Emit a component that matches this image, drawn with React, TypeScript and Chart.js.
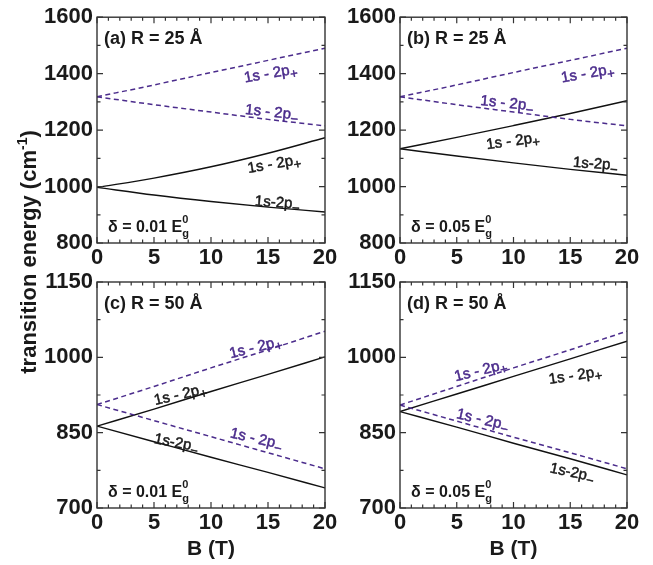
import React, { useEffect, useRef } from 'react';
import { Chart, registerables } from 'chart.js';

Chart.register(...registerables);

const FONT = '"Liberation Sans", Arial, Helvetica, sans-serif';
const PURPLE = '#4b2c8c';
const INK = '#1a1a1a';
const FRAME = '#333333';
const W = 653;
const H = 565;

// magnetic field B (T)
const B_FIELD = [0, 5, 10, 15, 20];

// (a) R = 25 Å, δ = 0.01 Eg0
const A_DASH_PLUS = [1318, 1360, 1404, 1447, 1490];
const A_DASH_MINUS = [1318, 1290, 1264, 1238, 1215];
const A_SOLID_PLUS = [997, 1030, 1070, 1118, 1173];
const A_SOLID_MINUS = [997, 970, 947, 927, 910];

// (b) R = 25 Å, δ = 0.05 Eg0
const B_DASH_PLUS = [1318, 1360, 1404, 1447, 1490];
const B_DASH_MINUS = [1318, 1290, 1264, 1238, 1215];
const B_SOLID_PLUS = [1134, 1174, 1216, 1259, 1304];
const B_SOLID_MINUS = [1134, 1108, 1084, 1061, 1040];

// (c) R = 50 Å, δ = 0.01 Eg0
const C_DASH_PLUS = [906, 942, 979, 1015, 1052];
const C_DASH_MINUS = [906, 874, 842, 810, 778];
const C_SOLID_PLUS = [863, 897, 932, 966, 1001];
const C_SOLID_MINUS = [863, 832, 801, 771, 740];

// (d) R = 50 Å, δ = 0.05 Eg0
const D_DASH_PLUS = [905, 942, 979, 1015, 1052];
const D_DASH_MINUS = [905, 873, 841, 810, 778];
const D_SOLID_PLUS = [892, 927, 962, 997, 1032];
const D_SOLID_MINUS = [892, 861, 829, 798, 766];

// tick labels
const X_TICKS = [0, 5, 10, 15, 20];
const Y_TICKS_TOP = [800, 1000, 1200, 1400, 1600];
const Y_TICKS_BOTTOM = [700, 850, 1000, 1150];

type Seg = { t: string; size: number; dy?: number; noAdvance?: boolean };

function drawSegs(
  ctx: CanvasRenderingContext2D,
  segs: Seg[],
  x: number,
  y: number,
  angleDeg: number,
  color: string,
  weight: string,
  align: 'left' | 'center',
  strokeW = 0
) {
  ctx.save();
  ctx.translate(x, y);
  ctx.rotate((angleDeg * Math.PI) / 180);
  ctx.fillStyle = color;
  ctx.strokeStyle = color;
  ctx.lineWidth = strokeW;
  ctx.lineJoin = 'round';
  ctx.textBaseline = 'alphabetic';
  ctx.textAlign = 'left';
  let total = 0;
  let pend = 0;
  for (const s of segs) {
    ctx.font = `${weight} ${s.size}px ${FONT}`;
    const w = ctx.measureText(s.t).width;
    if (s.noAdvance) pend = Math.max(pend, w);
    else {
      total += Math.max(w, pend);
      pend = 0;
    }
  }
  total += pend;
  let cx = align === 'center' ? -total / 2 : 0;
  pend = 0;
  for (const s of segs) {
    ctx.font = `${weight} ${s.size}px ${FONT}`;
    ctx.fillText(s.t, cx, s.dy || 0);
    if (strokeW > 0) ctx.strokeText(s.t, cx, s.dy || 0);
    const w = ctx.measureText(s.t).width;
    if (s.noAdvance) pend = Math.max(pend, w);
    else {
      cx += Math.max(w, pend);
      pend = 0;
    }
  }
  ctx.restore();
}

type LineLabel = { b: number; e: number; angle: number; text: string; sub: string; color: string };

interface Panel {
  box: { left: number; top: number; right: number; bottom: number };
  yMin: number;
  yMax: number;
  yTicks: number[];
  yMinor: number;
  series: { data: number[]; dashed: boolean }[];
  title: string;
  delta: string;
  labels: LineLabel[];
  xTitle: boolean;
  yTitle: boolean;
}

const PANELS: Panel[] = [
  {
    box: { left: 97, top: 16, right: 325, bottom: 243 },
    yMin: 800,
    yMax: 1600,
    yTicks: Y_TICKS_TOP,
    yMinor: 100,
    series: [
      { data: A_DASH_PLUS, dashed: true },
      { data: A_DASH_MINUS, dashed: true },
      { data: A_SOLID_PLUS, dashed: false },
      { data: A_SOLID_MINUS, dashed: false },
    ],
    title: '(a) R = 25 Å',
    delta: '0.01',
    labels: [
      { b: 15.3, e: 1403, angle: -10, text: '1s - 2p', sub: '+', color: PURPLE },
      { b: 15.3, e: 1265, angle: 6, text: '1s - 2p', sub: '−', color: PURPLE },
      { b: 15.6, e: 1082, angle: -10, text: '1s - 2p', sub: '+', color: INK },
      { b: 15.8, e: 945, angle: 4, text: '1s-2p', sub: '−', color: INK },
    ],
    xTitle: false,
    yTitle: true,
  },
  {
    box: { left: 400, top: 16, right: 627, bottom: 243 },
    yMin: 800,
    yMax: 1600,
    yTicks: Y_TICKS_TOP,
    yMinor: 100,
    series: [
      { data: B_DASH_PLUS, dashed: true },
      { data: B_DASH_MINUS, dashed: true },
      { data: B_SOLID_PLUS, dashed: false },
      { data: B_SOLID_MINUS, dashed: false },
    ],
    title: '(b) R = 25 Å',
    delta: '0.05',
    labels: [
      { b: 16.6, e: 1403, angle: -10, text: '1s - 2p', sub: '+', color: PURPLE },
      { b: 9.4, e: 1297, angle: 6, text: '1s - 2p', sub: '−', color: PURPLE },
      { b: 10.0, e: 1163, angle: -8, text: '1s - 2p', sub: '+', color: INK },
      { b: 17.2, e: 1082, angle: 4, text: '1s-2p', sub: '−', color: INK },
    ],
    xTitle: false,
    yTitle: false,
  },
  {
    box: { left: 97, top: 282, right: 325, bottom: 508 },
    yMin: 700,
    yMax: 1150,
    yTicks: Y_TICKS_BOTTOM,
    yMinor: 75,
    series: [
      { data: C_DASH_PLUS, dashed: true },
      { data: C_DASH_MINUS, dashed: true },
      { data: C_SOLID_PLUS, dashed: false },
      { data: C_SOLID_MINUS, dashed: false },
    ],
    title: '(c) R = 50 Å',
    delta: '0.01',
    labels: [
      { b: 14.0, e: 1021, angle: -14, text: '1s - 2p', sub: '+', color: PURPLE },
      { b: 7.4, e: 927, angle: -13, text: '1s - 2p', sub: '+', color: INK },
      { b: 6.9, e: 831, angle: 11, text: '1s-2p', sub: '−', color: INK },
      { b: 13.9, e: 839, angle: 13, text: '1s - 2p', sub: '−', color: PURPLE },
    ],
    xTitle: true,
    yTitle: false,
  },
  {
    box: { left: 400, top: 282, right: 627, bottom: 508 },
    yMin: 700,
    yMax: 1150,
    yTicks: Y_TICKS_BOTTOM,
    yMinor: 75,
    series: [
      { data: D_DASH_PLUS, dashed: true },
      { data: D_DASH_MINUS, dashed: true },
      { data: D_SOLID_PLUS, dashed: false },
      { data: D_SOLID_MINUS, dashed: false },
    ],
    title: '(d) R = 50 Å',
    delta: '0.05',
    labels: [
      { b: 7.2, e: 975, angle: -14, text: '1s - 2p', sub: '+', color: PURPLE },
      { b: 15.5, e: 965, angle: -9, text: '1s - 2p', sub: '+', color: INK },
      { b: 7.2, e: 877, angle: 13, text: '1s - 2p', sub: '−', color: PURPLE },
      { b: 15.1, e: 772, angle: 12, text: '1s-2p', sub: '−', color: INK },
    ],
    xTitle: true,
    yTitle: false,
  },
];

function decorPlugin(p: Panel) {
  return {
    id: 'decor',
    afterDraw(chart: any) {
      const ctx: CanvasRenderingContext2D = chart.ctx;
      const { left, right, top, bottom } = chart.chartArea;
      const xs = chart.scales.x;
      const ys = chart.scales.y;
      ctx.save();
      // frame
      ctx.strokeStyle = FRAME;
      ctx.lineWidth = 1.4;
      ctx.strokeRect(left, top, right - left, bottom - top);
      // ticks (inward, all four sides)
      ctx.lineWidth = 1.2;
      ctx.beginPath();
      for (let v = 0; v <= 20; v += 1) {
        const px = xs.getPixelForValue(v);
        const len = v % 5 === 0 ? 6 : 3.5;
        ctx.moveTo(px, bottom);
        ctx.lineTo(px, bottom - len);
        ctx.moveTo(px, top);
        ctx.lineTo(px, top + len);
      }
      for (let v = p.yMin; v <= p.yMax + 0.01; v += p.yMinor) {
        const py = ys.getPixelForValue(v);
        const major = p.yTicks.some((t) => Math.abs(t - v) < 0.01);
        const len = major ? 6 : 3.5;
        ctx.moveTo(left, py);
        ctx.lineTo(left + len, py);
        ctx.moveTo(right, py);
        ctx.lineTo(right - len, py);
      }
      ctx.stroke();
      ctx.restore();

      // panel title
      drawSegs(ctx, [{ t: p.title, size: 18 }], left + 7, top + 27, 0, INK, 'bold', 'left');
      // delta
      drawSegs(
        ctx,
        [
          { t: 'δ = ' + p.delta + ' E', size: 16 },
          { t: 'g', size: 11, dy: 5, noAdvance: true },
          { t: '0', size: 11, dy: -9, noAdvance: true },
        ],
        left + 11,
        bottom - 11,
        0,
        INK,
        'bold',
        'left'
      );
      // line labels
      for (const l of p.labels) {
        const x = xs.getPixelForValue(l.b);
        const y = ys.getPixelForValue(l.e);
        drawSegs(
          ctx,
          [
            { t: l.text, size: 15 },
            { t: l.sub, size: 13, dy: 4 },
          ],
          x,
          y + 5,
          l.angle,
          l.color,
          'normal',
          'center',
          0.5
        );
      }
      if (p.xTitle) {
        drawSegs(ctx, [{ t: 'B (T)', size: 21 }], (left + right) / 2, 555, 0, INK, 'bold', 'center');
      }
      if (p.yTitle) {
        drawSegs(
          ctx,
          [
            { t: 'transition energy (cm', size: 22 },
            { t: '-1', size: 14, dy: -9 },
            { t: ')', size: 22 },
          ],
          36,
          252,
          -90,
          INK,
          'bold',
          'center'
        );
      }
    },
  };
}

function PanelChart({ p }: { p: Panel }) {
  const ref = useRef<HTMLCanvasElement | null>(null);
  useEffect(() => {
    if (!ref.current) return;
    const datasets = p.series.map((s) => ({
      data: B_FIELD.map((b, i) => ({ x: b, y: s.data[i] })),
      borderColor: s.dashed ? PURPLE : '#111111',
      borderDash: s.dashed ? [5, 3.5] : [],
      borderWidth: s.dashed ? 1.5 : 1.4,
      pointRadius: 0,
      fill: false,
      cubicInterpolationMode: 'monotone' as const,
    }));
    const tickFont = { size: 22, weight: 'bold' as const, family: FONT };
    const chart = new Chart(ref.current, {
      type: 'line',
      data: { datasets },
      options: {
        animation: false,
        responsive: false,
        devicePixelRatio: 1,
        layout: {
          padding: {
            left: p.box.left - 97,
            top: p.box.top,
            right: W - p.box.right,
            bottom: H - p.box.bottom - 27,
          },
        },
        plugins: { legend: { display: false }, tooltip: { enabled: false } },
        scales: {
          x: {
            type: 'linear',
            min: 0,
            max: 20,
            afterBuildTicks: (s: any) => {
              s.ticks = X_TICKS.map((v) => ({ value: v }));
            },
            afterFit: (s: any) => {
              s.height = 27;
            },
            grid: { display: false, drawTicks: false },
            border: { display: false },
            ticks: {
              font: tickFont,
              color: INK,
              padding: 2,
              maxRotation: 0,
              autoSkip: false,
              callback: (v: any) => String(v),
            },
          },
          y: {
            type: 'linear',
            min: p.yMin,
            max: p.yMax,
            afterBuildTicks: (s: any) => {
              s.ticks = p.yTicks.map((v) => ({ value: v }));
            },
            afterFit: (s: any) => {
              s.width = 97;
            },
            grid: { display: false, drawTicks: false },
            border: { display: false },
            ticks: {
              font: tickFont,
              color: INK,
              padding: 4,
              autoSkip: false,
              callback: (v: any) => String(v),
            },
          },
        },
      },
      plugins: [decorPlugin(p)],
    });
    return () => chart.destroy();
  }, [p]);
  return (
    <canvas
      ref={ref}
      width={W}
      height={H}
      style={{ position: 'absolute', left: 0, top: 0, width: W, height: H }}
    />
  );
}

export default function App() {
  return (
    <div style={{ position: 'absolute', left: 0, top: 0, width: W, height: H, background: '#ffffff' }}>
      {PANELS.map((p, i) => (
        <PanelChart key={i} p={p} />
      ))}
    </div>
  );
}
